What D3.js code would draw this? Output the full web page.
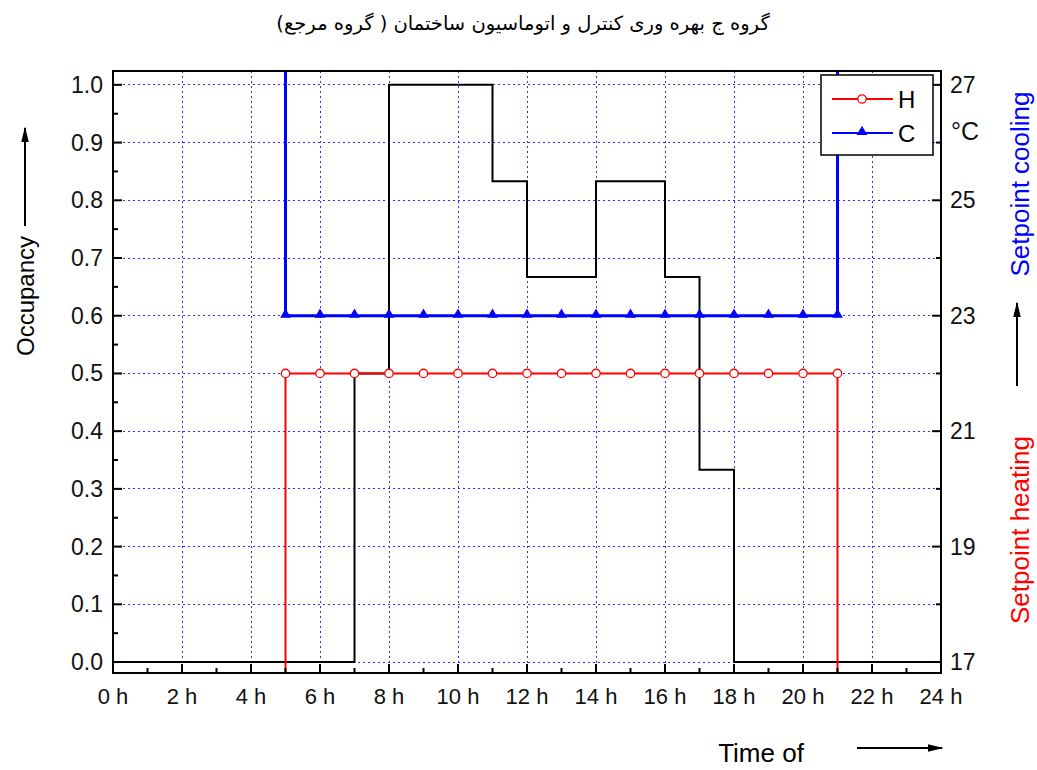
<!DOCTYPE html>
<html>
<head>
<meta charset="utf-8">
<script src="https://cdn.jsdelivr.net/npm/d3@7"></script>
<style>
  body { margin: 0; background: #fff; }
  text { font-family: "Liberation Sans", Arial, sans-serif; }
</style>
</head>
<body>
<svg id="chart" width="1037" height="770"></svg>
<script>
// chart data
let title = "گروه ج بهره وری کنترل و اتوماسیون ساختمان ( گروه مرجع)";
let occ_time = [0, 7, 8, 11, 12, 14, 16, 17, 18, 24];
let occ_value = [0, 0.5, 1.0, 0.833, 0.667, 0.833, 0.667, 0.333, 0, 0];
let set_hours = [5, 6, 7, 8, 9, 10, 11, 12, 13, 14, 15, 16, 17, 18, 19, 20, 21];
let heating = [22, 22, 22, 22, 22, 22, 22, 22, 22, 22, 22, 22, 22, 22, 22, 22, 22];
let cooling = [23, 23, 23, 23, 23, 23, 23, 23, 23, 23, 23, 23, 23, 23, 23, 23, 23];
let heating_off = 16;   // below the axis, outside the 5h-21h window
let cooling_off = 28;   // above the axis
let x_ticks = [0, 2, 4, 6, 8, 10, 12, 14, 16, 18, 20, 22, 24];
let x_minor = [1, 3, 5, 7, 9, 11, 13, 15, 17, 19, 21, 23];
let y_ticks = [0, 0.1, 0.2, 0.3, 0.4, 0.5, 0.6, 0.7, 0.8, 0.9, 1.0];
let y_minor = [0.05, 0.15, 0.25, 0.35, 0.45, 0.55, 0.65, 0.75, 0.85, 0.95];
let t_ticks = [17, 19, 21, 23, 25, 27];
let t_minor = [18, 20, 22, 24, 26];

var svg = d3.select("#chart");
var frame = {left: 113, right: 941, top: 71, bottom: 673};

var x = d3.scaleLinear().domain([0, 24]).range([frame.left, frame.right]);
var y = d3.scaleLinear().domain([-0.019, 1.024]).range([frame.bottom, frame.top]);
var t = d3.scaleLinear().domain([17 - 0.19, 27 + 0.24]).range([frame.bottom, frame.top]);

svg.append("rect").attr("width", 1037).attr("height", 770).attr("fill", "#fff");

// title
svg.append("text")
  .attr("x", 523).attr("y", 30)
  .attr("text-anchor", "middle")
  .attr("direction", "rtl")
  .style("font-family", "'DejaVu Sans', sans-serif")
  .style("font-size", "19.5px")
  .text(title);

var defs = svg.append("defs");
defs.append("clipPath").attr("id", "plot_clip")
  .append("rect").attr("x", frame.left).attr("y", frame.top)
  .attr("width", frame.right - frame.left).attr("height", frame.bottom - frame.top);

var marker = defs.append("marker")
  .attr("id", "arrow").attr("viewBox", "0 0 10 10")
  .attr("refX", 9).attr("refY", 5)
  .attr("markerWidth", 8).attr("markerHeight", 8)
  .attr("orient", "auto");
marker.append("path").attr("d", "M0,2.6 L10,5 L0,7.4 z").attr("fill", "#000");

// grid
var grid = svg.append("g").attr("stroke", "#3030ff").attr("stroke-width", 1)
  .attr("stroke-dasharray", "2,3").attr("shape-rendering", "crispEdges");
grid.selectAll(".gx").data(x_ticks.slice(1, -1)).enter().append("line")
  .attr("x1", d => x(d)).attr("x2", d => x(d))
  .attr("y1", frame.top).attr("y2", frame.bottom);
grid.selectAll(".gy").data(y_ticks).enter().append("line")
  .attr("x1", frame.left).attr("x2", frame.right)
  .attr("y1", d => y(d)).attr("y2", d => y(d));

var plot = svg.append("g").attr("clip-path", "url(#plot_clip)");

// occupancy
var occ_line = d3.line().x(d => x(d[0])).y(d => y(d[1])).curve(d3.curveStepAfter);
plot.append("path")
  .datum(occ_time.map((d, i) => [d, occ_value[i]]))
  .attr("d", occ_line)
  .attr("fill", "none").attr("stroke", "#000").attr("stroke-width", 2);

// setpoints
var t_line = d3.line().x(d => x(d[0])).y(d => t(d[1]));
function setpoint_data(values, off) {
  let pts = [[set_hours[0], off]];
  set_hours.forEach((h, i) => pts.push([h, values[i]]));
  pts.push([set_hours[set_hours.length - 1], off]);
  return pts;
}
plot.append("path")
  .datum(setpoint_data(heating, heating_off))
  .attr("d", t_line)
  .attr("fill", "none").attr("stroke", "#ff0000").attr("stroke-width", 2);
plot.append("path")
  .datum(setpoint_data(cooling, cooling_off))
  .attr("d", t_line)
  .attr("fill", "none").attr("stroke", "#0000ff").attr("stroke-width", 3);

svg.append("g").selectAll("circle")
  .data(set_hours).enter().append("circle")
  .attr("cx", d => x(d))
  .attr("cy", (d, i) => t(heating[i]))
  .attr("r", 4.2)
  .attr("fill", "#fff").attr("stroke", "#ff0000").attr("stroke-width", 1.3);

var tri = d3.symbol().type(d3.symbolTriangle).size(50);
svg.append("g").selectAll("path")
  .data(set_hours).enter().append("path")
  .attr("d", tri)
  .attr("transform", (d, i) => "translate(" + x(d) + "," + (t(cooling[i]) - 1) + ")")
  .attr("fill", "#0000ff");

// frame + ticks
svg.append("rect")
  .attr("x", frame.left).attr("y", frame.top)
  .attr("width", frame.right - frame.left).attr("height", frame.bottom - frame.top)
  .attr("fill", "none").attr("stroke", "#000").attr("stroke-width", 2);

var ticks = svg.append("g").attr("stroke", "#000").attr("stroke-width", 2);
ticks.selectAll(".xt").data(x_ticks).enter().append("line")
  .attr("x1", d => x(d)).attr("x2", d => x(d)).attr("y1", frame.bottom).attr("y2", frame.bottom - 9);
ticks.selectAll(".xm").data(x_minor).enter().append("line")
  .attr("x1", d => x(d)).attr("x2", d => x(d)).attr("y1", frame.bottom).attr("y2", frame.bottom - 5);
ticks.selectAll(".yt").data(y_ticks).enter().append("line")
  .attr("x1", frame.left).attr("x2", frame.left + 9).attr("y1", d => y(d)).attr("y2", d => y(d));
ticks.selectAll(".ym").data(y_minor).enter().append("line")
  .attr("x1", frame.left).attr("x2", frame.left + 5).attr("y1", d => y(d)).attr("y2", d => y(d));
ticks.selectAll(".tt").data(t_ticks).enter().append("line")
  .attr("x1", frame.right).attr("x2", frame.right - 9).attr("y1", d => t(d)).attr("y2", d => t(d));
ticks.selectAll(".tm").data(t_minor).enter().append("line")
  .attr("x1", frame.right).attr("x2", frame.right - 5).attr("y1", d => t(d)).attr("y2", d => t(d));

// tick labels
var lab = svg.append("g").attr("fill", "#111");
lab.selectAll(".xl").data(x_ticks).enter().append("text")
  .attr("x", d => x(d)).attr("y", 704)
  .attr("text-anchor", "middle")
  .style("font-size", "22px")
  .text(d => d + " h");
lab.selectAll(".yl").data(y_ticks).enter().append("text")
  .attr("x", 103).attr("y", d => y(d) + 8)
  .attr("text-anchor", "end")
  .style("font-size", "23px")
  .text(d => d.toFixed(1));
lab.selectAll(".tl").data(t_ticks).enter().append("text")
  .attr("x", 950).attr("y", d => t(d) + 8)
  .style("font-size", "23px")
  .text(d => d);
svg.append("text").attr("x", 951).attr("y", 140)
  .style("font-size", "25px").attr("fill", "#111").text("°C");

// axis titles
svg.append("text")
  .attr("transform", "translate(34,296) rotate(-90)")
  .attr("text-anchor", "middle")
  .style("font-size", "24px")
  .text("Occupancy");
svg.append("line")
  .attr("x1", 25).attr("y1", 226).attr("x2", 25).attr("y2", 128)
  .attr("stroke", "#000").attr("stroke-width", 2).attr("marker-end", "url(#arrow)");

svg.append("text")
  .attr("x", 761).attr("y", 762)
  .attr("text-anchor", "middle")
  .style("font-size", "26px")
  .text("Time of");
svg.append("line")
  .attr("x1", 857).attr("y1", 748).attr("x2", 942).attr("y2", 748)
  .attr("stroke", "#000").attr("stroke-width", 2).attr("marker-end", "url(#arrow)");

svg.append("text")
  .attr("transform", "translate(1029,184) rotate(-90)")
  .attr("text-anchor", "middle")
  .style("font-size", "26px")
  .attr("fill", "#0000ff")
  .text("Setpoint cooling");
svg.append("line")
  .attr("x1", 1017).attr("y1", 386).attr("x2", 1017).attr("y2", 303)
  .attr("stroke", "#000").attr("stroke-width", 2).attr("marker-end", "url(#arrow)");
svg.append("text")
  .attr("transform", "translate(1029,530) rotate(-90)")
  .attr("text-anchor", "middle")
  .style("font-size", "26px")
  .attr("fill", "#ff0000")
  .text("Setpoint heating");

// legend
var legend = svg.append("g");
legend.append("rect")
  .attr("x", 821).attr("y", 75).attr("width", 112).attr("height", 80)
  .attr("fill", "#fff").attr("stroke", "#000").attr("stroke-width", 1.5);
legend.append("line").attr("x1", 832).attr("x2", 893).attr("y1", 99).attr("y2", 99)
  .attr("stroke", "#ff0000").attr("stroke-width", 2);
legend.append("circle").attr("cx", 862).attr("cy", 99).attr("r", 4.2)
  .attr("fill", "#fff").attr("stroke", "#ff0000").attr("stroke-width", 1.3);
legend.append("text").attr("x", 898).attr("y", 108).style("font-size", "24px").text("H");
legend.append("line").attr("x1", 832).attr("x2", 893).attr("y1", 133).attr("y2", 133)
  .attr("stroke", "#0000ff").attr("stroke-width", 2);
legend.append("path").attr("d", tri)
  .attr("transform", "translate(862,132)").attr("fill", "#0000ff");
legend.append("text").attr("x", 898).attr("y", 142).style("font-size", "24px").text("C");
</script>
</body>
</html>
